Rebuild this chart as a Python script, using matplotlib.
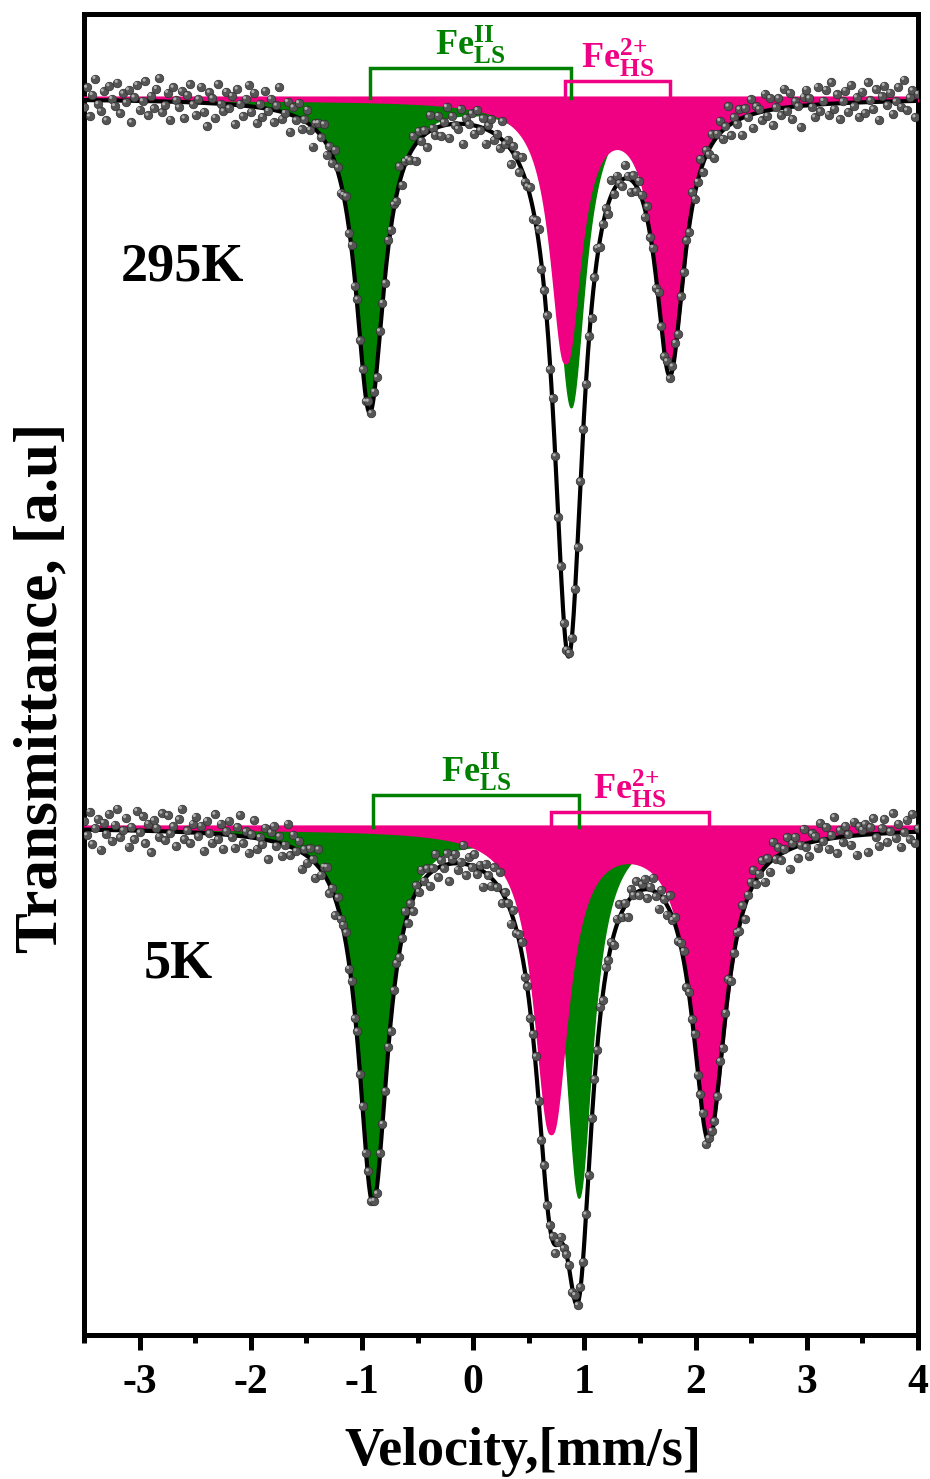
import numpy as np
import matplotlib
matplotlib.use('Agg')
import matplotlib.pyplot as plt
from matplotlib.ticker import MultipleLocator
from matplotlib.transforms import ScaledTranslation

plt.rcParams['font.family'] = ['Liberation Serif', 'DejaVu Serif']
plt.rcParams['font.weight'] = 'bold'
plt.rcParams['axes.unicode_minus'] = False
plt.rcParams['mathtext.fontset'] = 'custom'
plt.rcParams['mathtext.rm'] = 'Liberation Serif:bold'
plt.rcParams['mathtext.bf'] = 'Liberation Serif:bold'
plt.rcParams['mathtext.it'] = 'Liberation Serif:bold:italic'

GREEN = '#008000'
PINK = '#F00082'

# folded velocity channels (mm/s)
velocity = np.linspace(-3.5, 4.0, 300)

# Lorentzian doublets: centre (mm/s), depth (arb.), half width (mm/s)
ls295_pos = [-0.93, 0.88]
ls295_depth = [3.10, 3.07]
ls295_hwhm = [0.155, 0.15]
hs295_pos = [0.83, 1.77]
hs295_depth = [2.57, 2.62]
hs295_hwhm = [0.15, 0.155]

ls5_pos = [-0.90, 0.95]
ls5_depth = [3.70, 3.68]
ls5_hwhm = [0.16, 0.15]
hs5_pos = [0.70, 2.12]
hs5_depth = [3.01, 3.03]
hs5_hwhm = [0.17, 0.18]

# counting-noise residuals of the measured points (hundredths of a unit)
resid295 = [
    -4, 7, -9, 3, 12, -2, -6, 5, -11, 8, 1, -3, 10, -7, 4, -1, 6, -12, 2, 9,
    -5, 0, 11, -8, 3, -4, 7, 13, -6, -2, 5, -10, 8, 1, -3, 6, -9, 4, 10, -1,
    -7, 2, 9, -5, -13, 6, 3, -8, 11, 0, -4, 7, -2, 5, -11, 9, 1, -6, 4, 12,
    -3, 8, -9, 2, -5, 10, -1, 6, -7, 3, 14, -4, 0, 7, -10, 5, -2, 9, -6, 1,
    8, -3, -12, 4, 6, -1, 10, -7, 2, -5, 9, 3, -8, 0, 11, -4, 5, -9, 7, -2,
    1, -6, 12, -3, 4, -10, 6, 2, -7, 9, -1, 5, -4, 13, -8, 3, 0, -5, 8, -11,
    6, -2, 3, -9, 10, 1, -4, 7, -6, 2, 11, -8, 5, -1, -3, 9, -12, 4, 0, 7,
    -5, 10, -2, 6, -9, 3, 8, -4, 1, -7, 12, -1, 4, -10, 5, 2, -6, 9, -3, 0,
    7, -8, 3, 11, -5, -1, 6, -11, 9, 2, -4, 8, -7, 0, 5, -3, 10, -9, 4, 1,
    -2, 6, -10, 3, 9, -6, 1, 4, -8, 12, -3, 7, -1, -5, 10, 2, -9, 5, -4, 8,
    3, -7, 11, -2, 5, -12, 8, 0, -6, 9, -3, 4, 10, -8, 2, -1, 6, -5, 13, -4,
    0, 9, -6, 4, -3, 7, -11, 2, 8, -5, 1, 12, -7, 3, -2, 6, -10, 5, -1, 9,
    -8, 4, 2, -5, 10, -3, 7, -9, 1, 6, -4, 11, -2, 8, -7, 3, 0, -12, 5, 9,
    4, -1, -7, 10, -4, 2, 8, -6, 12, -3, 5, -9, 1, 7, -5, 10, -2, 3, -8, 6,
    -6, 11, 1, -4, 7, -10, 3, 9, -2, 5, -7, 0, 8, -3, 12, -5, 2, 6, -9, 4,
]
resid5 = [
    5, -3, 10, -8, 1, 6, -11, 4, -2, 9, -6, 3, 12, -4, 0, 7, -9, 2, -5, 11,
    -1, 8, -7, 4, -12, 6, 2, -3, 10, -5, 9, -1, 3, -8, 7, 13, -4, 1, -6, 5,
    9, -2, 4, -10, 7, 0, -5, 11, -3, 6, -8, 2, 8, -1, -7, 5, 12, -4, 3, -9,
    2, 10, -6, 1, -3, 7, -11, 5, 9, -2, 4, -7, 0, 13, -5, 8, -1, 6, -10, 3,
    -4, 6, 1, -9, 11, -3, 5, 8, -6, 2, -12, 7, -1, 4, 10, -5, 3, -8, 9, 0,
    7, -5, 12, -2, 3, -7, 9, 1, -4, 6, -10, 4, 8, -3, 0, 11, -6, 2, -9, 5,
    -3, 9, -1, 5, -8, 2, 10, -6, 4, -2, 7, -11, 3, 6, -4, 1, 12, -7, 5, -1,
    8, -4, 3, -10, 6, 0, -5, 9, -2, 11, -7, 4, 1, -9, 7, -3, 5, 10, -6, 2,
    -7, 3, 11, -1, -5, 8, -3, 2, 6, -12, 4, 9, -4, 0, 7, -8, 10, -2, 3, -6,
    1, -9, 6, 4, -2, 12, -5, 7, -1, 3, -8, 5, 10, -4, 2, -11, 6, 0, 8, -3,
    4, 7, -6, 2, 9, -3, -10, 5, 1, -7, 11, -2, 6, -5, 3, 8, -9, 4, -1, 10,
    -5, 2, 8, -11, 4, 6, -2, 0, 9, -6, 3, 12, -8, 1, 5, -4, 7, -10, 2, 6,
    10, -3, 1, 7, -9, 4, -6, 11, -1, 5, -4, 2, 8, -12, 3, 6, -7, 0, 9, -2,
    -8, 5, 3, -4, 10, -1, 7, -6, 2, 12, -9, 4, -3, 6, 1, -5, 8, -11, 5, 3,
    6, -10, 4, 9, -2, -7, 3, 8, -5, 1, 11, -3, 5, -8, 0, 7, -4, 10, -6, 2,
]

spectra = [
    dict(temp='295K', offset=0.0, ls=(ls295_pos, ls295_depth, ls295_hwhm),
         hs=(hs295_pos, hs295_depth, hs295_hwhm), resid=resid295,
         ls_h=0.30, hs_h=0.17, temp_xy=(-3.17, -1.82)),
    dict(temp='5K', offset=-7.29, ls=(ls5_pos, ls5_depth, ls5_hwhm),
         hs=(hs5_pos, hs5_depth, hs5_hwhm), resid=resid5,
         ls_h=0.32, hs_h=0.15, temp_xy=(-2.96, -1.51)),
]


def doublet(v, pos, depth, hwhm):
    out = np.zeros_like(v)
    for p, d, w in zip(pos, depth, hwhm):
        out += d / (1 + ((v - p) / w) ** 2)
    return out


fig = plt.figure(figsize=(9.3, 14.79), dpi=100)
ax = fig.add_axes([0.0903, 0.0974, 0.8967, 0.8931])

vf = np.linspace(-3.5, 4.0, 3000)
hl = ax.transData + ScaledTranslation(-0.012, 0.012, fig.dpi_scale_trans)

for s in spectra:
    base = s['offset']
    ls = doublet(vf, *s['ls'])
    hs = doublet(vf, *s['hs'])
    ax.fill_between(vf, base, base - ls, facecolor=GREEN, edgecolor=GREEN,
                    lw=1.0, zorder=2)
    ax.fill_between(vf, base, base - hs, facecolor=PINK, edgecolor=PINK,
                    lw=3.0, zorder=3)
    ax.plot(vf, base - ls - hs, color='black', lw=3.0, zorder=4)

    # measured points; scatter shrinks where counts drop inside the dips
    model = doublet(velocity, *s['ls']) + doublet(velocity, *s['hs'])
    y = base - model + np.array(s['resid']) / (55.0 * (1 + 0.4 * model))
    ax.scatter(velocity, y, s=38, facecolor='#555555', edgecolor='#2e2e2e',
               linewidth=0.5, zorder=5)
    ax.scatter(velocity, y, s=5, facecolor='#b0b0b0', edgecolor='none',
               transform=hl, zorder=6)

    # doublet brackets with labels
    for (pos, _, _), h, col, lab in [
            (s['ls'], s['ls_h'], GREEN, r'$\mathrm{Fe}^{\mathrm{II}}_{\mathrm{LS}}$'),
            (s['hs'], s['hs_h'], PINK, r'$\mathrm{Fe}^{\mathrm{2{+}}}_{\mathrm{HS}}$')]:
        ax.plot([pos[0], pos[0], pos[1], pos[1]],
                [base, base + h, base + h, base], color=col, lw=2.5,
                solid_joinstyle='miter', zorder=4)
        ax.text((pos[0] + pos[1]) / 2, base + h + 0.02, lab, color=col,
                fontsize=26, ha='center', va='bottom')

    ax.text(s['temp_xy'][0], base + s['temp_xy'][1], s['temp'],
            fontsize=39, fontweight='bold', ha='left', va='baseline')

ax.set_xlim(-3.5, 4.0)
ax.set_ylim(-12.37, 0.84)
ax.set_yticks([])
ax.set_xticks(range(-3, 5))
ax.xaxis.set_minor_locator(MultipleLocator(0.5))
ax.tick_params(axis='x', which='major', direction='out', length=11,
               width=3.6, labelsize=30, pad=10)
ax.tick_params(axis='x', which='minor', direction='out', length=6, width=3.6)
for sp in ax.spines.values():
    sp.set_linewidth(3.6)

ax.set_xlabel('Velocity,[mm/s]', fontsize=39, fontweight='bold')
ax.xaxis.set_label_coords(0.526, -0.070)
ax.set_ylabel('Transmittance, [a.u]', fontsize=44, fontweight='bold')
ax.yaxis.set_label_coords(-0.017, 0.49)

fig.savefig('out.png', dpi=100)
